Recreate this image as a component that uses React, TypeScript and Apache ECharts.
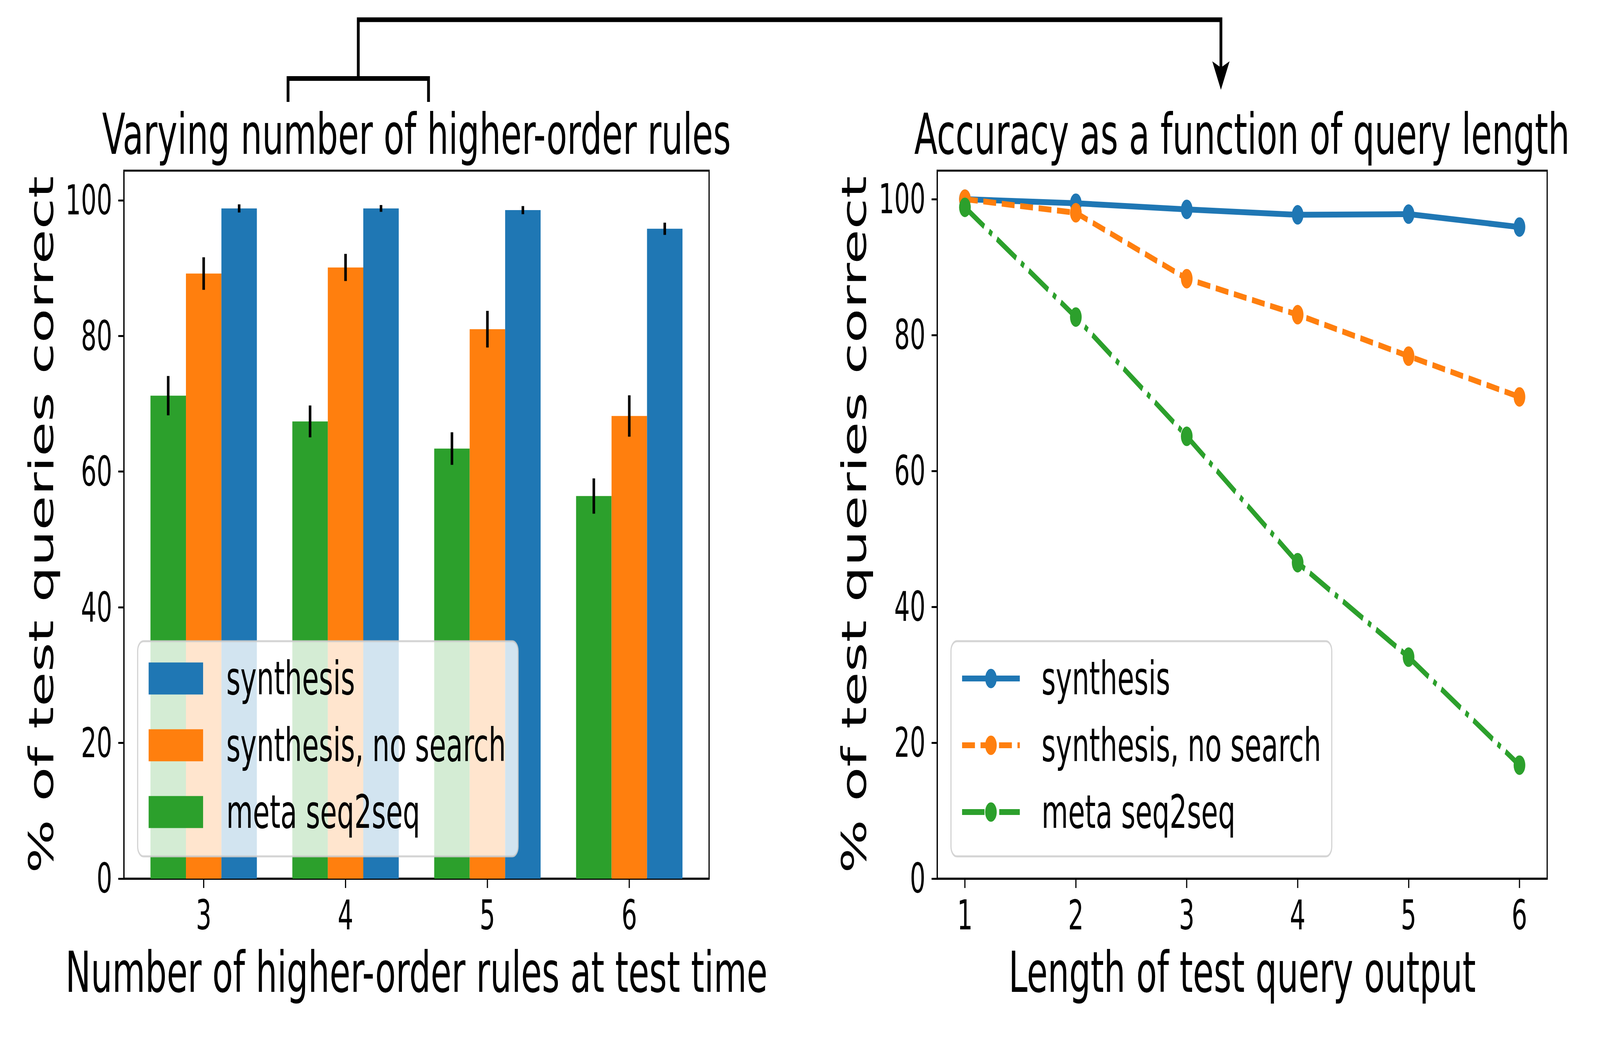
import React, { useEffect, useRef } from "react";
import * as echarts from "echarts";

// ---- data ----
const ruleCounts = [3, 4, 5, 6];
const barSynthesis = [98.8, 98.8, 98.55, 95.8];
const barSynthesisErr = [0.6, 0.5, 0.6, 0.9];
const barNoSearch = [89.2, 90.1, 81.0, 68.2];
const barNoSearchErr = [2.4, 2.0, 2.7, 3.05];
const barMeta = [71.2, 67.4, 63.4, 56.4];
const barMetaErr = [2.9, 2.35, 2.4, 2.6];

const queryLengths = [1, 2, 3, 4, 5, 6];
const lineSynthesis = [100, 99.4, 98.5, 97.7, 97.8, 95.9];
const lineNoSearch = [100, 98.0, 88.3, 83.0, 76.9, 70.9];
const lineMeta = [98.8, 82.65, 65.1, 46.5, 32.6, 16.7];

const yTicks = [0, 20, 40, 60, 80, 100];
const seriesLabels = ["synthesis", "synthesis, no search", "meta seq2seq"];

const BLUE = "#1f77b4";
const ORANGE = "#ff7f0e";
const GREEN = "#2ca02c";
const FONT = "DejaVu Sans";
const W = 6846;
const H = 2694;

function barSeries(label: string, color: string, values: number[], errs: number[], offset: number) {
  return {
    type: "custom",
    name: "bar|" + label,
    xAxisIndex: 0,
    yAxisIndex: 0,
    itemStyle: { color },
    data: ruleCounts.map((c, i) => [c, values[i], errs[i]]),
    renderItem: (params: any, api: any) => {
      const x = api.value(0) + offset;
      const v = api.value(1);
      const e = api.value(2);
      const p0 = api.coord([x - 0.125, v]);
      const p1 = api.coord([x + 0.125, 0]);
      const eTop = api.coord([x, v + e]);
      const eBot = api.coord([x, v - e]);
      return {
        type: "group",
        children: [
          {
            type: "rect",
            shape: { x: p0[0], y: p0[1], width: p1[0] - p0[0], height: p1[1] - p0[1] },
            style: { fill: color },
          },
          {
            type: "line",
            shape: { x1: eTop[0], y1: eTop[1], x2: eBot[0], y2: eBot[1] },
            style: { stroke: "#000", lineWidth: 11 },
          },
        ],
      };
    },
  };
}

function lineSeries(label: string, color: string, values: number[], dash: any) {
  return {
    type: "line",
    name: "line|" + label,
    xAxisIndex: 1,
    yAxisIndex: 1,
    data: queryLengths.map((x, i) => [x, values[i]]),
    symbol: "circle",
    symbolSize: 50,
    showSymbol: true,
    itemStyle: { color },
    lineStyle: { color, width: 15, type: dash, cap: "butt" },
  };
}

const axisText = { fontSize: 105, fontFamily: FONT, color: "#000", lineHeight: 105 };
const nameText = { fontSize: 145, fontFamily: FONT, color: "#000", lineHeight: 145 };

function App() {
  const ref = useRef<HTMLDivElement>(null);
  const vw = typeof window !== "undefined" ? window.innerWidth || W : W;
  const vh = typeof window !== "undefined" ? window.innerHeight || H : H;
  const sx = vw / W;
  const sy = vh / H;

  useEffect(() => {
    if (!ref.current) return;
    const chart = echarts.init(ref.current, null, { renderer: "svg", width: W, height: H });
    const legendCommon = {
      orient: "vertical",
      top: 1642,
      itemGap: 54,
      selectedMode: false,
      backgroundColor: "rgba(255,255,255,0.8)",
      borderColor: "rgba(204,204,204,0.85)",
      borderWidth: 5,
      borderRadius: 25,
      formatter: (n: string) => n.split("|")[1],
    };
    const option: any = {
      animation: false,
      backgroundColor: "#fff",
      grid: [
        { left: 530, top: 437, width: 2504, height: 1813, show: true, borderColor: "#000", borderWidth: 5, containLabel: false, outerBoundsMode: "none" },
        { left: 4010, top: 437, width: 2610, height: 1813, show: true, borderColor: "#000", borderWidth: 5, containLabel: false, outerBoundsMode: "none" },
      ],
      xAxis: [
        {
          type: "value",
          gridIndex: 0,
          min: 2.4375,
          max: 6.5625,
          name: "Number of higher-order rules at test time",
          nameLocation: "middle",
          nameGap: 167,
          nameTextStyle: nameText,
          axisLine: { show: true, lineStyle: { color: "#000", width: 5 } },
          axisTick: { show: true, length: 24, lineStyle: { color: "#000", width: 5 }, customValues: ruleCounts },
          axisLabel: { ...axisText, margin: 41, customValues: ruleCounts },
          splitLine: { show: false },
        },
        {
          type: "value",
          gridIndex: 1,
          min: 0.75,
          max: 6.25,
          name: "Length of test query output",
          nameLocation: "middle",
          nameGap: 167,
          nameTextStyle: nameText,
          axisLine: { show: true, lineStyle: { color: "#000", width: 5 } },
          axisTick: { show: true, length: 24, lineStyle: { color: "#000", width: 5 }, customValues: queryLengths },
          axisLabel: { ...axisText, margin: 41, customValues: queryLengths },
          splitLine: { show: false },
        },
      ],
      yAxis: [
        {
          type: "value",
          gridIndex: 0,
          min: 0,
          max: 104.37,
          name: "% of test queries correct",
          nameLocation: "middle",
          nameGap: 281,
          nameTextStyle: nameText,
          axisLine: { show: true, lineStyle: { color: "#000", width: 5 } },
          axisTick: { show: true, length: 24, lineStyle: { color: "#000", width: 5 }, customValues: yTicks },
          axisLabel: { ...axisText, margin: 50, customValues: yTicks },
          splitLine: { show: false },
        },
        {
          type: "value",
          gridIndex: 1,
          min: 0,
          max: 104.2,
          name: "% of test queries correct",
          nameLocation: "middle",
          nameGap: 283,
          nameTextStyle: nameText,
          axisLine: { show: true, lineStyle: { color: "#000", width: 5 } },
          axisTick: { show: true, length: 24, lineStyle: { color: "#000", width: 5 }, customValues: yTicks },
          axisLabel: { ...axisText, margin: 50, customValues: yTicks },
          splitLine: { show: false },
        },
      ],
      legend: [
        {
          ...legendCommon,
          left: 589,
          padding: [37, 52, 55, 47],
          icon: "rect",
          itemWidth: 233,
          itemHeight: 82,
          textStyle: { fontSize: 117, fontFamily: FONT, color: "#000", lineHeight: 117, padding: [0, 0, 0, 94] },
          data: seriesLabels.map((l) => "bar|" + l),
        },
        {
          ...legendCommon,
          left: 4069,
          padding: [37, 45, 55, 40],
          itemWidth: 247,
          itemHeight: 62,
          lineStyle: { width: 15, type: "inherit", color: "inherit", cap: "butt" },
          textStyle: { fontSize: 117, fontFamily: FONT, color: "#000", lineHeight: 117, padding: [0, 0, 0, 88] },
          data: seriesLabels.map((l) => "line|" + l),
        },
      ],
      graphic: [
        {
          type: "polyline",
          shape: { points: [[1232.5, 261], [1232.5, 201], [1833.5, 201], [1833.5, 261]] },
          style: { stroke: "#000", lineWidth: 12, fill: null, lineJoin: "miter" },
        },
        {
          type: "polyline",
          shape: { points: [[1533, 201], [1533, 50.5], [5224, 50.5], [5224, 180]] },
          style: { stroke: "#000", lineWidth: 12, fill: null, lineJoin: "miter" },
        },
        {
          type: "polygon",
          shape: { points: [[5187, 157], [5224, 230], [5261, 157], [5224, 173]] },
          style: { fill: "#000" },
        },
        {
          type: "text",
          x: 1782,
          y: 344,
          style: {
            text: "Varying number of higher-order rules",
            fontSize: 145,
            fontFamily: FONT,
            fill: "#000",
            align: "center",
            verticalAlign: "middle",
            textAlign: "center",
            textVerticalAlign: "middle",
          },
        },
        {
          type: "text",
          x: 5314,
          y: 344,
          style: {
            text: "Accuracy as a function of query length",
            fontSize: 145,
            fontFamily: FONT,
            fill: "#000",
            align: "center",
            verticalAlign: "middle",
            textAlign: "center",
            textVerticalAlign: "middle",
          },
        },
      ],
      series: [
        barSeries(seriesLabels[2], GREEN, barMeta, barMetaErr, -0.25),
        barSeries(seriesLabels[1], ORANGE, barNoSearch, barNoSearchErr, 0),
        barSeries(seriesLabels[0], BLUE, barSynthesis, barSynthesisErr, 0.25),
        lineSeries(seriesLabels[0], BLUE, lineSynthesis, "solid"),
        lineSeries(seriesLabels[1], ORANGE, lineNoSearch, [55, 24]),
        lineSeries(seriesLabels[2], GREEN, lineMeta, [96, 24, 15, 24]),
      ],
    };
    chart.setOption(option);
    return () => chart.dispose();
  }, []);

  return (
    <div style={{ position: "fixed", left: 0, top: 0, width: "100vw", height: "100vh", overflow: "hidden", background: "#fff" }}>
      <div
        ref={ref}
        style={{
          position: "absolute",
          left: 0,
          top: 0,
          width: W,
          height: H,
          transformOrigin: "0 0",
          transform: `scale(${sx}, ${sy})`,
        }}
      />
    </div>
  );
}

export default App;
